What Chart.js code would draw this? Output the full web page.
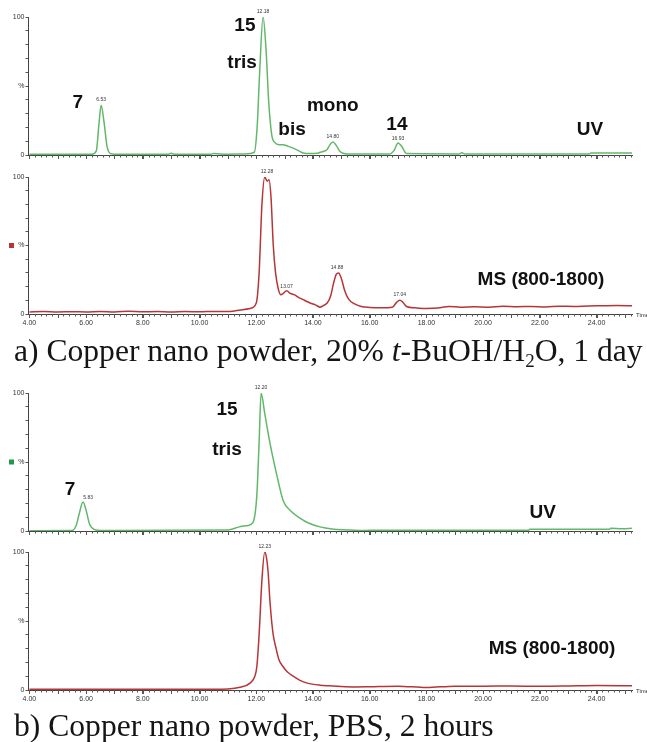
<!DOCTYPE html>
<html><head><meta charset="utf-8">
<script src="https://cdn.jsdelivr.net/npm/chart.js@4"></script>
<style>
html,body{margin:0;padding:0;background:#fff;width:647px;height:742px;overflow:hidden;position:relative;}
canvas{position:absolute;left:0;}
.cap{position:absolute;left:14px;font-family:"Liberation Serif","Times New Roman",serif;font-size:31.6px;line-height:31.6px;color:#151515;white-space:nowrap;}
.sub{font-size:0.6em;position:relative;top:0.3em;}
</style></head><body>
<canvas id="c1" width="647" height="165" style="top:0px"></canvas>
<canvas id="c2" width="647" height="175" style="top:165px"></canvas>
<div class="cap" style="top:335px">a) Copper nano powder, 20% <i>t</i>-BuOH/H<span class="sub">2</span>O, 1 day</div>
<canvas id="c3" width="647" height="170" style="top:375px"></canvas>
<canvas id="c4" width="647" height="176" style="top:540px"></canvas>
<div class="cap" style="top:710px">b) Copper nano powder, PBS, 2 hours</div>
<script>
// ---------------- DATA ----------------
const xTickLabels = ["4.00","6.00","8.00","10.00","12.00","14.00","16.00","18.00","20.00","22.00","24.00"];
const yTickLabels = ["0","%","100"];

// (a) UV trace
const uvA_time   = [4.0, 6.2, 6.36, 6.45, 6.53, 6.63, 6.74, 6.86, 7.0, 8.9, 9.0, 9.1, 10.4, 10.5, 11.0, 11.6, 11.93, 12.03, 12.12, 12.24, 12.34, 12.44, 12.55, 12.66, 12.8, 12.95, 13.1, 13.3, 13.5, 13.65, 13.9, 14.15, 14.25, 14.35, 14.5, 14.6, 14.7, 14.82, 14.95, 15.2, 16.7, 16.85, 17.0, 17.12, 17.3, 19.15, 19.25, 19.35, 23.75, 23.8, 25.25];
const uvA_signal = [0.5, 0.5, 3, 22, 36, 24, 6, 1, 0.6, 0.6, 1.2, 0.6, 0.6, 1.0, 0.6, 0.8, 2, 20, 60, 100, 78, 38, 14, 9, 7.5, 7.5, 6.5, 5, 3, 1.5, 1, 1.2, 2, 2.5, 4, 7.5, 9.4, 7, 2.5, 0.8, 0.8, 3, 8.7, 6.5, 1, 0.8, 1.6, 0.8, 0.8, 1.5, 1.5];

// (a) MS (800-1800) trace
const msA_time   = [4.0, 4.5, 5.0, 5.5, 6.0, 6.5, 7.0, 7.5, 8.0, 8.5, 9.0, 9.5, 10.0, 10.5, 11.0, 11.22, 11.5, 11.78, 12.0, 12.1, 12.2, 12.3, 12.38, 12.45, 12.52, 12.6, 12.68, 12.78, 12.87, 12.95, 13.07, 13.2, 13.35, 13.5, 13.7, 13.9, 14.1, 14.25, 14.35, 14.5, 14.62, 14.72, 14.82, 14.9, 15.0, 15.12, 15.25, 15.45, 15.7, 16.0, 16.4, 16.8, 16.95, 17.06, 17.15, 17.3, 17.6, 18.0, 18.4, 18.8, 19.2, 19.7, 20.2, 20.7, 21.2, 21.7, 22.2, 22.7, 23.2, 23.7, 24.2, 24.7, 25.25];
const msA_signal = [1.5, 1.8, 1.5, 1.7, 1.5, 1.8, 1.5, 2.0, 1.6, 1.8, 1.5, 1.8, 1.6, 1.9, 1.8, 2.2, 3, 4, 8, 30, 80, 100, 97, 98, 85, 50, 30, 18, 14, 15, 17, 15, 14, 12, 10, 8, 6.5, 5, 6, 8, 13, 22, 29, 30, 26, 17, 11, 7.5, 5.5, 4.8, 4.5, 5, 8.5, 10, 9, 5.5, 4.5, 4, 4.3, 5.5, 5, 5.3, 5, 5.6, 5.3, 5.5, 5.2, 5.7, 5.5, 5.8, 6.0, 6.2, 6.0];

// (b) UV trace
const uvB_time   = [4.0, 5.5, 5.65, 5.75, 5.89, 6.0, 6.12, 6.3, 6.5, 11.0, 11.4, 11.7, 11.88, 12.02, 12.1, 12.17, 12.3, 12.48, 12.73, 12.95, 13.19, 13.54, 13.84, 14.25, 14.67, 15.2, 15.76, 16.0, 21.6, 21.65, 24.45, 24.5, 24.9, 25.25];
const uvB_signal = [0.2, 0.3, 4, 12, 21, 15, 5, 1, 0.4, 0.8, 3, 4, 6, 26, 64, 100, 85, 64, 40, 22, 15, 9.4, 5.8, 3, 1.5, 0.8, 0.3, 0.5, 0.5, 1.3, 1.3, 2.0, 1.6, 2.0];

// (b) MS (800-1800) trace
const msB_time   = [4.0, 5.0, 6.0, 7.0, 8.0, 9.0, 10.0, 11.0, 11.43, 11.78, 11.95, 12.02, 12.1, 12.2, 12.3, 12.36, 12.42, 12.48, 12.59, 12.7, 12.8, 12.94, 13.1, 13.3, 13.54, 13.8, 14.25, 14.6, 15.0, 15.5, 16.0, 17.0, 18.0, 19.0, 20.0, 21.0, 22.0, 23.0, 24.0, 25.25];
const msB_signal = [0.5, 0.6, 0.5, 0.6, 0.5, 0.6, 0.5, 0.8, 2, 5, 10, 17, 40, 80, 100, 96, 85, 65, 41, 30, 22, 17, 13, 10, 7, 5, 3.5, 3, 2.5, 2.2, 2.4, 2.8, 1.8, 2.8, 2.8, 2.9, 2.7, 2.9, 3.2, 3.0];

// Peak / trace annotations  [time, %, text]
const uvA_notes = [[5.71, 38, "7"], [11.6, 94, "15"], [11.5, 67, "tris"], [13.26, 18, "bis"], [14.7, 36, "mono"], [16.96, 22, "14"], [23.77, 18, "UV"]];
const uvA_peaks = [[6.53, 40, "6.53"], [12.24, 104, "12.18"], [14.7, 13, "14.80"], [17.0, 12, "16.93"]];
const msA_notes = [[22.04, 25, "MS (800-1800)"]];
const msA_peaks = [[12.38, 104, "12.28"], [13.07, 20, "13.07"], [14.85, 34, "14.88"], [17.06, 14, "17.04"]];
const uvB_notes = [[5.43, 30, "7"], [10.97, 88, "15"], [10.97, 59, "tris"], [22.1, 13, "UV"]];
const uvB_peaks = [[6.07, 24.5, "5.83"], [12.17, 104, "12.20"]];
const msB_notes = [[22.43, 30, "MS (800-1800)"]];
const msB_peaks = [[12.3, 104, "12.23"]];

// ---------------- CHARTS ----------------
const GREEN = "#62b86a", RED = "#b73536";
const X_MIN = 3.95, X_MAX = 25.25;

function pts(t, v) {
  if (t.length !== v.length) throw new Error("length mismatch " + t.length + " vs " + v.length);
  return t.map((x, i) => ({x: x, y: v[i]}));
}

const notesPlugin = {
  id: "notes",
  afterDraw(chart, args, opts) {
    const ctx = chart.ctx, xs = chart.scales.x, ys = chart.scales.y, ca = chart.chartArea;
    ctx.save();
    ctx.strokeStyle = "#555"; ctx.lineWidth = 1;
    for (let k = 0; k <= 106; k++) {
      const v = 4 + k * 0.2;
      if (v > X_MAX) break;
      const px = Math.round(xs.getPixelForValue(v)) + 0.5;
      const isInt = Math.abs(v - Math.round(v)) < 1e-6;
      ctx.beginPath(); ctx.moveTo(px, ca.bottom); ctx.lineTo(px, ca.bottom + (isInt ? 4 : 2.5)); ctx.stroke();
    }
    ctx.textAlign = "center"; ctx.textBaseline = "middle"; ctx.fillStyle = "#111";
    ctx.font = "bold 19px 'Liberation Sans', Arial, sans-serif";
    (opts.notes || []).forEach(n => ctx.fillText(n[2], xs.getPixelForValue(n[0]), ys.getPixelForValue(n[1])));
    ctx.font = "5px 'Liberation Sans', Arial, sans-serif"; ctx.fillStyle = "#333";
    (opts.peaks || []).forEach(n => ctx.fillText(n[2], xs.getPixelForValue(n[0]), ys.getPixelForValue(n[1])));
    if (opts.square) {
      ctx.fillStyle = opts.square;
      const y = ys.getPixelForValue(50);
      ctx.fillRect(9, y - 2.5, 5, 5);
    }
    if (opts.time) {
      ctx.font = "6px 'Liberation Sans', Arial, sans-serif"; ctx.fillStyle = "#333"; ctx.textAlign = "left";
      ctx.fillText("Time", ca.right + 4, ca.bottom + 1);
    }
    ctx.restore();
  }
};

function makeChart(id, t, v, color, cfg) {
  new Chart(document.getElementById(id), {
    type: "line",
    data: { datasets: [{ data: pts(t, v), borderColor: color, borderWidth: 1.5, pointRadius: 0, cubicInterpolationMode: "monotone", fill: false }] },
    options: {
      responsive: false, animation: false, events: [],
      layout: { padding: { top: cfg.pt, right: 15, left: 0, bottom: 0 } },
      plugins: { legend: { display: false }, tooltip: { enabled: false },
        notes: { notes: cfg.notes, peaks: cfg.peaks, square: cfg.square, time: cfg.showX } },
      scales: {
        x: {
          type: "linear", min: X_MIN, max: X_MAX,
          afterBuildTicks: s => { s.ticks = xTickLabels.map(l => ({ value: parseFloat(l) })); },
          afterFit: s => { s.height = cfg.hx; },
          grid: { display: true, drawOnChartArea: false, drawTicks: true, tickLength: 4, color: "#555" },
          border: { display: true, color: "#444", width: 1 },
          ticks: { display: cfg.showX, autoSkip: false, maxRotation: 0, padding: 1, color: "#333",
            font: { size: 7, family: "'Liberation Sans', Arial, sans-serif" },
            callback: (val) => xTickLabels.find(l => Math.abs(parseFloat(l) - val) < 1e-6) || "" }
        },
        y: {
          min: 0, max: 100,
          afterBuildTicks: s => { const a = []; for (let i = 0; i <= 10; i++) a.push({ value: i * 10 }); s.ticks = a; },
          afterFit: s => { s.width = 28; },
          grid: { display: true, drawOnChartArea: false, drawTicks: true, tickLength: 2.5, color: "#555" },
          border: { display: true, color: "#444", width: 1 },
          ticks: { autoSkip: false, padding: 1, color: "#333",
            font: { size: 7, family: "'Liberation Sans', Arial, sans-serif" },
            callback: (val) => val === 0 ? yTickLabels[0] : val === 50 ? yTickLabels[1] : val === 100 ? yTickLabels[2] : "" }
        }
      }
    },
    plugins: [notesPlugin]
  });
}

makeChart("c1", uvA_time, uvA_signal, GREEN, { pt: 17, hx: 10, showX: false, notes: uvA_notes, peaks: uvA_peaks });
makeChart("c2", msA_time, msA_signal, RED, { pt: 12, hx: 26, showX: true, notes: msA_notes, peaks: msA_peaks, square: RED });
makeChart("c3", uvB_time, uvB_signal, GREEN, { pt: 18, hx: 14, showX: false, notes: uvB_notes, peaks: uvB_peaks, square: "#1f9a4a" });
makeChart("c4", msB_time, msB_signal, RED, { pt: 12, hx: 26, showX: true, notes: msB_notes, peaks: msB_peaks });
</script>
</body></html>
